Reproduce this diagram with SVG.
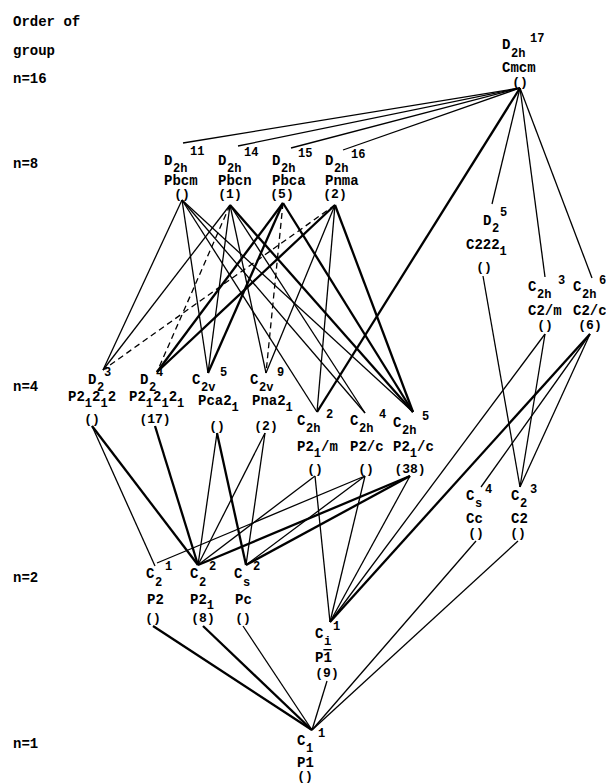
<svg xmlns="http://www.w3.org/2000/svg" width="606" height="784" viewBox="0 0 606 784">
<style>
text{font-family:"Liberation Mono","DejaVu Sans Mono",monospace;font-weight:bold;fill:#000}
.m{font-size:14px}
.s{font-size:12px}
.p{font-size:13px;text-anchor:middle}
#edges line{stroke:#000;stroke-width:1.3;fill:none}
#edges .h{stroke-width:2.3}
#edges .d{stroke-dasharray:6 4}
</style>
<rect width="606" height="784" fill="#fff"/>
<g id="axis">
<text class="m" x="13" y="26">Order of</text>
<text class="m" x="13" y="55">group</text>
<text class="m" x="13" y="83">n=16</text>
<text class="m" x="13" y="168">n=8</text>
<text class="m" x="13" y="391">n=4</text>
<text class="m" x="13" y="582">n=2</text>
<text class="m" x="13" y="748">n=1</text>
</g>
<g id="edges">
<line x1="520" y1="88" x2="183" y2="143"/>
<line x1="520" y1="88" x2="238" y2="146"/>
<line x1="520" y1="88" x2="291" y2="148"/>
<line x1="520" y1="88" x2="343" y2="150"/>
<line class="h" x1="520" y1="88" x2="317" y2="412"/>
<line x1="520" y1="88" x2="492" y2="204"/>
<line x1="520" y1="88" x2="545" y2="277"/>
<line x1="520" y1="88" x2="592" y2="278"/>
<line x1="182" y1="200" x2="103" y2="370"/>
<line x1="182" y1="200" x2="208" y2="373"/>
<line x1="182" y1="200" x2="317" y2="412"/>
<line x1="182" y1="200" x2="365" y2="413"/>
<line x1="182" y1="200" x2="413" y2="412"/>
<line x1="230" y1="205" x2="103" y2="370"/>
<line x1="230" y1="205" x2="208" y2="373"/>
<line x1="230" y1="205" x2="266" y2="373"/>
<line x1="230" y1="205" x2="365" y2="413"/>
<line class="h" x1="230" y1="205" x2="413" y2="412"/>
<line class="d" x1="230" y1="205" x2="157" y2="372"/>
<line class="h" x1="283" y1="203" x2="157" y2="372"/>
<line class="h" x1="283" y1="203" x2="208" y2="373"/>
<line class="h" x1="283" y1="203" x2="413" y2="412"/>
<line class="d" x1="283" y1="203" x2="266" y2="373"/>
<line class="h" x1="335" y1="205" x2="157" y2="372"/>
<line x1="335" y1="205" x2="266" y2="373"/>
<line x1="335" y1="205" x2="317" y2="412"/>
<line class="h" x1="335" y1="205" x2="413" y2="412"/>
<line class="d" x1="335" y1="205" x2="103" y2="370"/>
<line x1="92" y1="426" x2="155" y2="566"/>
<line class="h" x1="92" y1="426" x2="198" y2="565"/>
<line class="h" x1="155" y1="426" x2="198" y2="565"/>
<line x1="217" y1="433" x2="198" y2="565"/>
<line class="h" x1="217" y1="433" x2="246" y2="565"/>
<line x1="265" y1="433" x2="198" y2="565"/>
<line x1="265" y1="433" x2="246" y2="565"/>
<line x1="315" y1="476" x2="198" y2="565"/>
<line x1="315" y1="476" x2="330" y2="622"/>
<line x1="365" y1="476" x2="157" y2="563"/>
<line x1="365" y1="476" x2="246" y2="565"/>
<line x1="365" y1="476" x2="330" y2="622"/>
<line class="h" x1="410" y1="476" x2="198" y2="565"/>
<line class="h" x1="410" y1="476" x2="246" y2="565"/>
<line x1="410" y1="476" x2="330" y2="622"/>
<line x1="483" y1="276" x2="520" y2="487"/>
<line x1="545" y1="334" x2="520" y2="487"/>
<line x1="545" y1="334" x2="330" y2="622"/>
<line x1="590" y1="334" x2="520" y2="487"/>
<line x1="590" y1="334" x2="481" y2="487"/>
<line class="h" x1="590" y1="334" x2="330" y2="622"/>
<line class="h" x1="153" y1="626" x2="312" y2="730"/>
<line class="h" x1="203" y1="626" x2="312" y2="730"/>
<line x1="243" y1="626" x2="312" y2="730"/>
<line x1="327" y1="681" x2="312" y2="730"/>
<line x1="476" y1="541" x2="312" y2="730"/>
<line x1="518" y1="541" x2="312" y2="730"/>
</g>
<g id="Cmcm">
<text class="m" x="502" y="49">D</text><text class="s" x="511" y="57">2h</text><text class="s" x="530" y="42">17</text>
<text class="m" x="502" y="72">Cmcm</text>
<text class="p" x="520" y="86">()</text>
</g>
<g id="Pbcm">
<text class="m" x="164" y="165">D</text><text class="s" x="173" y="172">2h</text><text class="s" x="190" y="155">11</text>
<text class="m" x="164" y="185">Pbcm</text>
<text class="p" x="182" y="198">()</text>
</g>
<g id="Pbcn">
<text class="m" x="218" y="165">D</text><text class="s" x="227" y="172">2h</text><text class="s" x="244" y="156">14</text>
<text class="m" x="218" y="185">Pbcn</text>
<text class="p" x="230" y="198">(1)</text>
</g>
<g id="Pbca">
<text class="m" x="272" y="165">D</text><text class="s" x="281" y="172">2h</text><text class="s" x="298" y="157">15</text>
<text class="m" x="272" y="185">Pbca</text>
<text class="p" x="282" y="198">(5)</text>
</g>
<g id="Pnma">
<text class="m" x="325" y="165">D</text><text class="s" x="334" y="172">2h</text><text class="s" x="351" y="158">16</text>
<text class="m" x="325" y="185">Pnma</text>
<text class="p" x="335" y="198">(2)</text>
</g>
<g id="P21212">
<text class="m" x="88" y="384">D</text><text class="s" x="97" y="391">2</text><text class="s" x="104" y="376">3</text>
<text class="m" x="68" y="401">P2<tspan class="s" dy="6">1</tspan><tspan dy="-6">2</tspan><tspan class="s" dy="6">1</tspan><tspan dy="-6">2</tspan></text>
<text class="p" x="92" y="423">()</text>
</g>
<g id="P212121">
<text class="m" x="140" y="384">D</text><text class="s" x="149" y="391">2</text><text class="s" x="156" y="376">4</text>
<text class="m" x="129" y="401">P2<tspan class="s" dy="6">1</tspan><tspan dy="-6">2</tspan><tspan class="s" dy="6">1</tspan><tspan dy="-6">2</tspan><tspan class="s" dy="6">1</tspan></text>
<text class="p" x="155" y="423">(17)</text>
</g>
<g id="Pca21">
<text class="m" x="192" y="384">C</text><text class="s" x="201" y="391">2v</text><text class="s" x="220" y="376">5</text>
<text class="m" x="198" y="405">Pca2<tspan class="s" dy="6">1</tspan></text>
<text class="p" x="217" y="430">()</text>
</g>
<g id="Pna21">
<text class="m" x="250" y="384">C</text><text class="s" x="259" y="391">2v</text><text class="s" x="277" y="376">9</text>
<text class="m" x="252" y="405">Pna2<tspan class="s" dy="6">1</tspan></text>
<text class="p" x="266" y="430">(2)</text>
</g>
<g id="P21m">
<text class="m" x="297" y="425">C</text><text class="s" x="306" y="432">2h</text><text class="s" x="326" y="418">2</text>
<text class="m" x="297" y="451">P2<tspan class="s" dy="6">1</tspan><tspan dy="-6">/m</tspan></text>
<text class="p" x="315" y="473">()</text>
</g>
<g id="P2c">
<text class="m" x="350" y="425">C</text><text class="s" x="359" y="432">2h</text><text class="s" x="379" y="418">4</text>
<text class="m" x="350" y="451">P2/c</text>
<text class="p" x="366" y="473">()</text>
</g>
<g id="P21c">
<text class="m" x="393" y="427">C</text><text class="s" x="402" y="434">2h</text><text class="s" x="422" y="420">5</text>
<text class="m" x="393" y="451">P2<tspan class="s" dy="6">1</tspan><tspan dy="-6">/c</tspan></text>
<text class="p" x="410" y="473">(38)</text>
</g>
<g id="C2221">
<text class="m" x="483" y="225">D</text><text class="s" x="492" y="232">2</text><text class="s" x="500" y="216">5</text>
<text class="m" x="466" y="249">C222<tspan class="s" dy="6">1</tspan></text>
<text class="p" x="484" y="271">()</text>
</g>
<g id="C2m">
<text class="m" x="528" y="291">C</text><text class="s" x="537" y="298">2h</text><text class="s" x="558" y="284">3</text>
<text class="m" x="528" y="315">C2/m</text>
<text class="p" x="545" y="329">()</text>
</g>
<g id="C2c">
<text class="m" x="573" y="291">C</text><text class="s" x="582" y="298">2h</text><text class="s" x="599" y="284">6</text>
<text class="m" x="573" y="315">C2/c</text>
<text class="p" x="590" y="329">(6)</text>
</g>
<g id="P2">
<text class="m" x="146" y="578">C</text><text class="s" x="155" y="586">2</text><text class="s" x="165" y="570">1</text>
<text class="m" x="147" y="604">P2</text>
<text class="p" x="153" y="622">()</text>
</g>
<g id="P21">
<text class="m" x="190" y="578">C</text><text class="s" x="199" y="586">2</text><text class="s" x="209" y="570">2</text>
<text class="m" x="190" y="604">P2<tspan class="s" dy="5">1</tspan></text>
<text class="p" x="203" y="622">(8)</text>
</g>
<g id="Pc">
<text class="m" x="234" y="578">C</text><text class="s" x="243" y="586">s</text><text class="s" x="253" y="570">2</text>
<text class="m" x="235" y="604">Pc</text>
<text class="p" x="243" y="622">()</text>
</g>
<g id="Cc">
<text class="m" x="466" y="500">C</text><text class="s" x="475" y="507">s</text><text class="s" x="485" y="493">4</text>
<text class="m" x="466" y="523">Cc</text>
<text class="p" x="476" y="537">()</text>
</g>
<g id="C2">
<text class="m" x="511" y="500">C</text><text class="s" x="520" y="507">2</text><text class="s" x="530" y="493">3</text>
<text class="m" x="511" y="523">C2</text>
<text class="p" x="518" y="537">()</text>
</g>
<g id="P-1">
<text class="m" x="315" y="638">C</text><text class="s" x="324" y="645">i</text><text class="s" x="333" y="630">1</text>
<text class="m" x="315" y="662">P<tspan text-decoration="overline">1</tspan></text>
<text class="p" x="327" y="677">(9)</text>
</g>
<g id="P1">
<text class="m" x="297" y="745">C</text><text class="s" x="306" y="752">1</text><text class="s" x="318" y="737">1</text>
<text class="m" x="297" y="767">P1</text>
<text class="p" x="305" y="780">()</text>
</g>
</svg>
